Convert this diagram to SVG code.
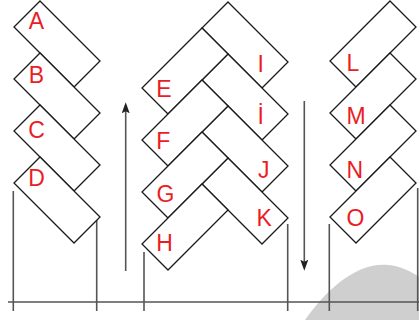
<svg xmlns="http://www.w3.org/2000/svg" width="419" height="320" viewBox="0 0 419 320">
<style>
.blk{fill:#fff;stroke:#1a1a1a;stroke-width:1.3;stroke-linejoin:miter}
.lbl{font-family:"Liberation Sans",Arial,sans-serif;font-size:23px;fill:#ec1c24}
.ln{stroke:#555;stroke-width:1.6;fill:none}
.ar{stroke:#555;stroke-width:1.6;fill:none}
</style>
<defs>
<marker id="ah" viewBox="0 0 11 8" refX="8" refY="4" markerWidth="11" markerHeight="8" markerUnits="userSpaceOnUse" orient="auto">
<path d="M11,4 L0,0 L2,4 L0,8 Z" fill="#222"/>
</marker>
</defs>
<path d="M305,320 C325,292 355,262 388,265 C401,266 412,272 419,277 L419,320 Z" fill="#cfcfcf"/>
<g id="axes">
<line class="ln" x1="8" y1="302" x2="419" y2="302"/>
<line class="ln" x1="13.3" y1="191" x2="13.3" y2="311"/>
<line class="ln" x1="96.7" y1="220" x2="96.7" y2="311"/>
<line class="ln" x1="144" y1="252" x2="144" y2="311"/>
<line class="ln" x1="287.7" y1="224" x2="287.7" y2="311"/>
<line class="ln" x1="329.3" y1="224" x2="329.3" y2="311"/>
<line class="ln" x1="417.7" y1="188" x2="417.7" y2="311"/>
</g>
<g id="connectors">
<path class="ar" d="M125.7,271 L125.7,105.3" marker-end="url(#ah)"/>
<path class="ar" d="M304.3,101 L304.3,267.7" marker-end="url(#ah)"/>
</g>
<g id="A"><polygon class="blk" points="40,1 100,61 74,87 14,27"/><text class="lbl" x="36.5" y="29" text-anchor="middle">A</text></g>
<g id="B"><polygon class="blk" points="40,53 100,113 74,139 14,79"/><text class="lbl" x="36.5" y="83" text-anchor="middle">B</text></g>
<g id="C"><polygon class="blk" points="40,105 100,165 74,191 14,131"/><text class="lbl" x="36.5" y="137.5" text-anchor="middle">C</text></g>
<g id="D"><polygon class="blk" points="40,157 100,217 74,243 14,183"/><text class="lbl" x="36.5" y="186" text-anchor="middle">D</text></g>
<g id="I"><polygon class="blk" points="228,2 288,62 262,88 202,28"/><text class="lbl" x="257.5" y="72">I</text></g>
<g id="I2"><polygon class="blk" points="228,54 288,114 262,140 202,80"/><text class="lbl" x="257.5" y="124">İ</text></g>
<g id="J"><polygon class="blk" points="228,106 288,166 262,192 202,132"/><text class="lbl" x="258" y="178">J</text></g>
<g id="K"><polygon class="blk" points="228,158 288,218 262,244 202,184"/><text class="lbl" x="256.5" y="226">K</text></g>
<g id="E"><polygon class="blk" points="202,28 228,54 168,114 142,88"/><text class="lbl" x="156.3" y="97">E</text></g>
<g id="F"><polygon class="blk" points="202,80 228,106 168,166 142,140"/><text class="lbl" x="156.3" y="149">F</text></g>
<g id="G"><polygon class="blk" points="202,132 228,158 168,218 142,192"/><text class="lbl" x="156.5" y="202">G</text></g>
<g id="H"><polygon class="blk" points="202,184 228,210 168,270 142,244"/><text class="lbl" x="156.3" y="251">H</text></g>
<g id="L"><polygon class="blk" points="390,1 416,27 356,87 330,61"/><text class="lbl" x="346.5" y="71">L</text></g>
<g id="M"><polygon class="blk" points="390,53 416,79 356,139 330,113"/><text class="lbl" x="346.5" y="124">M</text></g>
<g id="N"><polygon class="blk" points="390,105 416,131 356,191 330,165"/><text class="lbl" x="346.5" y="178">N</text></g>
<g id="O"><polygon class="blk" points="390,157 416,183 356,243 330,217"/><text class="lbl" x="346.5" y="226">O</text></g>
</svg>
